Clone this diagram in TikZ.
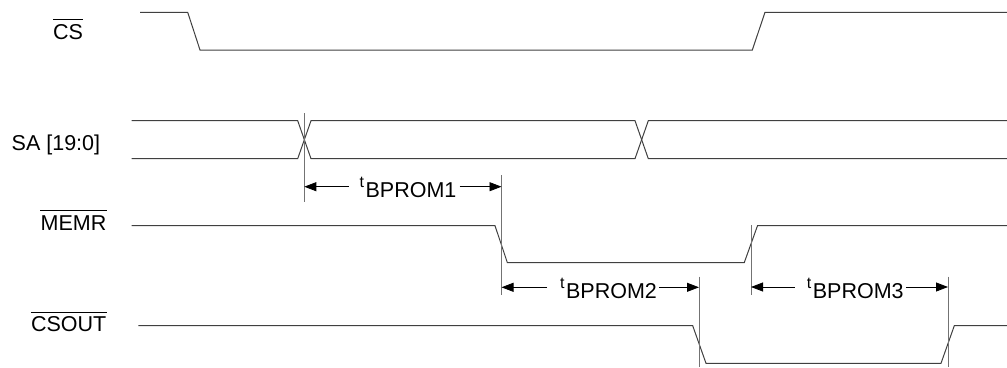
\documentclass[tikz,border=0pt]{standalone}
\usepackage{fontspec}
\setmainfont{Liberation Sans}
\usetikzlibrary{arrows.meta,calc}
\newcommand\tsym{\raisebox{9.6pt}{\fontsize{16}{18}\selectfont t}\hspace{1.5pt}}
\begin{document}
\begin{tikzpicture}[x=1pt,y=-1pt,
  sig/.style={draw=black!75,line width=1pt,line join=miter},
  guide/.style={draw=black!55,line width=1pt},
  dim/.style={draw=black,line width=0.8pt,-{Triangle[length=12pt,width=9pt]}},
  lbl/.style={inner sep=0pt,font=\fontsize{21.5}{25}\selectfont},
  ovl/.style={draw=black,line width=0.9pt}]
\useasboundingbox (0,0) rectangle (1007,367);

% signal names
\node[lbl,anchor=base west] (cs) at (53,39) {CS};
\node[lbl,anchor=base west] (sa) at (11.5,150.5) {SA [19:0]};
\node[lbl,anchor=base east] (memr) at (106.5,230.7) {MEMR};
\node[lbl,anchor=base east] (csout) at (106.5,331.7) {CSOUT};
\draw[ovl] (cs.west |- 0,19.3) -- (cs.east |- 0,19.3);
\draw[ovl] (memr.west |- 0,210.7) -- (memr.east |- 0,210.7);
\draw[ovl] (csout.west |- 0,312.7) -- (csout.east |- 0,312.7);

% waveforms
\draw[sig] (140,12.3) -- (187.7,12.3) -- (200,50) -- (752.3,50) -- (765,12.3) -- (1007,12.3);
\draw[sig] (131.7,120.7) -- (297.7,120.7) -- (311,158.7) -- (635,158.7) -- (648.3,120.7) -- (1007,120.7);
\draw[sig] (131.7,158.7) -- (297.7,158.7) -- (311,120.7) -- (635,120.7) -- (648.3,158.7) -- (1007,158.7);
\draw[sig] (131.7,225.7) -- (495,225.7) -- (507.3,262.5) -- (744.3,262.5) -- (757.5,225.7) -- (1007,225.7);
\draw[sig] (138.3,325.7) -- (692.7,325.7) -- (706,363.3) -- (941,363.3) -- (954.3,325.7) -- (1007,325.7);

% reference verticals
\coordinate (v1t) at (304.3,113);   \coordinate (v1b) at (304.3,201.7);
\coordinate (v2t) at (501.5,175);   \coordinate (v2b) at (501.5,295);
\coordinate (v3t) at (699,276.7);   \coordinate (v3b) at (699,367);
\coordinate (v4t) at (751,225);     \coordinate (v4b) at (751,295);
\coordinate (v5t) at (948,276.7);   \coordinate (v5b) at (948,367);
\draw[guide] (v1t) -- (v1b);
\draw[guide] (v2t) -- (v2b);
\draw[guide] (v3t) -- (v3b);
\draw[guide] (v4t) -- (v4b);
\draw[guide] (v5t) -- (v5b);

% timing labels
\node[lbl,anchor=base west] (t1) at (359.5,197.3) {\tsym BPROM1};
\node[lbl,anchor=base west] (t2) at (560,298.3) {\tsym BPROM2};
\node[lbl,anchor=base west] (t3) at (806.7,298.3) {\tsym BPROM3};

\coordinate (a1L) at (304.3,186.7); \coordinate (a1R) at (501.5,186.7);
\coordinate (a2L) at (501.5,287.3); \coordinate (a2R) at (699,287.3);
\coordinate (a3L) at (751,287);     \coordinate (a3R) at (948,287);

\draw[dim] ($(t1.west |- a1L)+(-11,0)$) -- (a1L);
\draw[dim] ($(t1.east |- a1R)+(3,0)$) -- (a1R);
\draw[dim] ($(t2.west |- a2L)+(-13,0)$) -- (a2L);
\draw[dim] ($(t2.east |- a2R)+(2,0)$) -- (a2R);
\draw[dim] ($(t3.west |- a3L)+(-12,0)$) -- (a3L);
\draw[dim] ($(t3.east |- a3R)+(2,0)$) -- (a3R);
\end{tikzpicture}
\end{document}
